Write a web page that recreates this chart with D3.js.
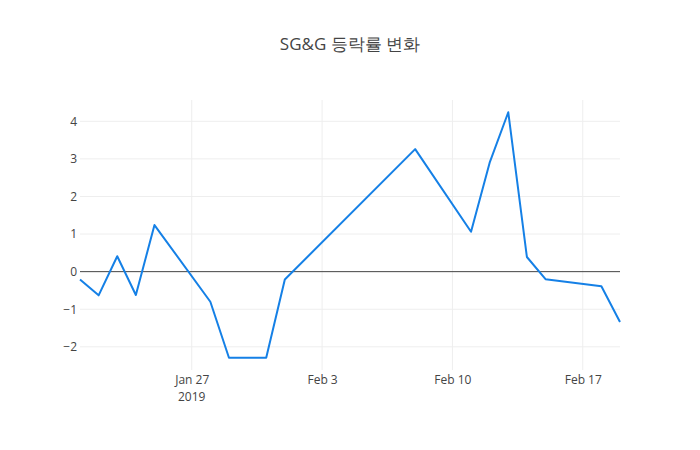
<!DOCTYPE html>
<html>
<head>
<meta charset="utf-8">
<script src="https://cdn.jsdelivr.net/npm/d3@7"></script>
<style>
  body { margin: 0; background: #fff; }
  text { font-family: "Open Sans", verdana, arial, sans-serif; fill: #444; }
</style>
</head>
<body>
<div id="chart"></div>
<script>
// data
var dates = ["2019-01-21", "2019-01-22", "2019-01-23", "2019-01-24", "2019-01-25",
  "2019-01-28", "2019-01-29", "2019-01-30", "2019-01-31", "2019-02-01",
  "2019-02-08", "2019-02-11", "2019-02-12", "2019-02-13", "2019-02-14",
  "2019-02-15", "2019-02-18", "2019-02-19"];
var changes = [-0.21, -0.63, 0.41, -0.62, 1.24,
  -0.80, -2.29, -2.29, -2.29, -0.21,
  3.26, 1.06, 2.90, 4.24, 0.39,
  -0.20, -0.39, -1.34];
var yTicks = [-2, -1, 0, 1, 2, 3, 4];
var xTicks = ["2019-01-27", "2019-02-03", "2019-02-10", "2019-02-17"];
var title = "SG&G 등락률 변화";

var svgWidth = 700;
var svgHeight = 450;
var margin = { top: 100, right: 80, bottom: 80, left: 80 };
var width = svgWidth - margin.left - margin.right;
var height = svgHeight - margin.top - margin.bottom;

var parse = d3.utcParse("%Y-%m-%d");
var data = dates.map(function(d, i) {
  return { date: parse(d), value: changes[i] };
});

var svg = d3.select("#chart").append("svg")
  .attr("width", svgWidth)
  .attr("height", svgHeight);

var chartGroup = svg.append("g")
  .attr("transform", `translate(${margin.left}, ${margin.top})`);

var xScale = d3.scaleUtc()
  .domain(d3.extent(data, d => d.date))
  .range([0, width]);

// plotly-like autorange: 5% padding
var yMin = d3.min(changes), yMax = d3.max(changes);
var pad = (yMax - yMin) * 0.05;
var yScale = d3.scaleLinear()
  .domain([yMin - pad, yMax + pad])
  .range([height, 0]);

// grid lines
chartGroup.selectAll(".ygrid")
  .data(yTicks.filter(t => t !== 0))
  .enter()
  .append("line")
  .attr("x1", 0).attr("x2", width)
  .attr("y1", d => yScale(d)).attr("y2", d => yScale(d))
  .attr("stroke", "#eee");

chartGroup.selectAll(".xgrid")
  .data(xTicks)
  .enter()
  .append("line")
  .attr("x1", d => xScale(parse(d))).attr("x2", d => xScale(parse(d)))
  .attr("y1", 0).attr("y2", height)
  .attr("stroke", "#eee");

// zero line
chartGroup.append("line")
  .attr("x1", 0).attr("x2", width)
  .attr("y1", yScale(0)).attr("y2", yScale(0))
  .attr("stroke", "#444")
  .attr("stroke-width", 1);

// y axis labels
var leftAxis = d3.axisLeft(yScale)
  .tickValues(yTicks)
  .tickSize(0)
  .tickPadding(3)
  .tickFormat(d => d < 0 ? "\u2212" + Math.abs(d) : d);
var yAxisG = chartGroup.append("g").call(leftAxis);
yAxisG.select(".domain").remove();
yAxisG.selectAll("text").style("font-size", "12px").attr("fill", "#444");

// x axis labels
var bottomAxis = d3.axisBottom(xScale)
  .tickValues(xTicks.map(parse))
  .tickSize(0)
  .tickPadding(5)
  .tickFormat(d3.utcFormat("%b %-d"));
var xAxisG = chartGroup.append("g")
  .attr("transform", `translate(0, ${height})`)
  .call(bottomAxis);
xAxisG.select(".domain").remove();
xAxisG.selectAll("text").style("font-size", "12px").attr("fill", "#444");

// year under the first tick
chartGroup.append("text")
  .attr("x", xScale(parse(xTicks[0])))
  .attr("y", height + 30.5)
  .attr("text-anchor", "middle")
  .style("font-size", "12px")
  .text("2019");

// line
var line = d3.line()
  .x(d => xScale(d.date))
  .y(d => yScale(d.value));

chartGroup.append("path")
  .datum(data)
  .attr("d", line)
  .attr("fill", "none")
  .attr("stroke", "#1580e6")
  .attr("stroke-width", 2)
  .attr("stroke-linejoin", "round");

// title
svg.append("text")
  .attr("x", svgWidth / 2)
  .attr("y", 50)
  .attr("text-anchor", "middle")
  .style("font-size", "17px")
  .text(title);
</script>
</body>
</html>
